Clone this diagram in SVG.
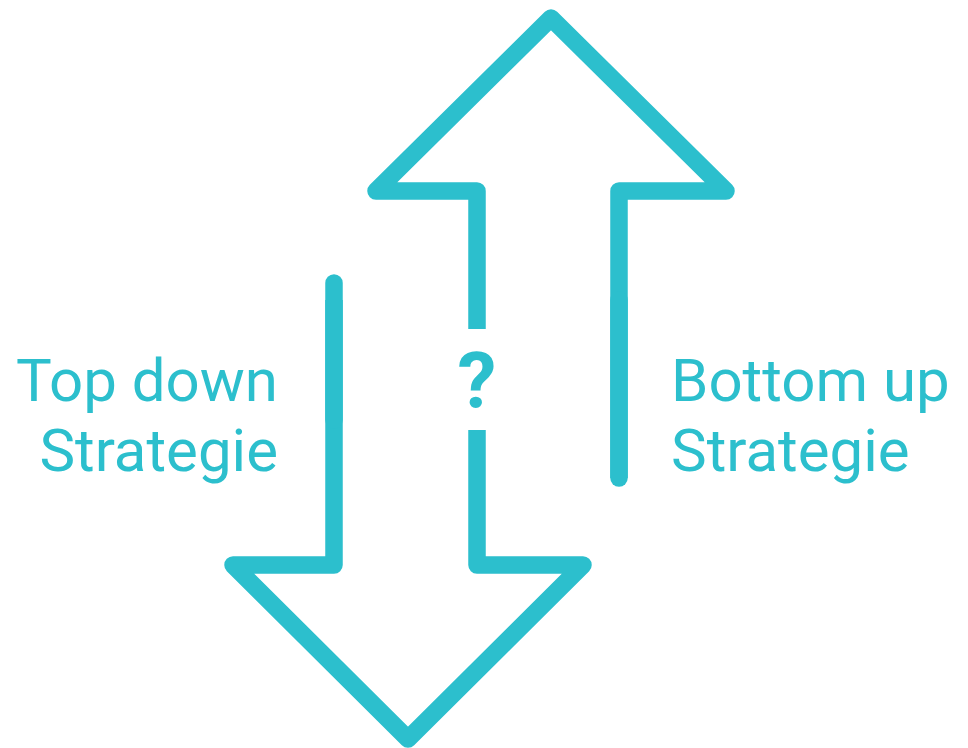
<svg xmlns="http://www.w3.org/2000/svg" width="968" height="748" viewBox="0 0 968 748">
<style>
.ln{fill:none;stroke:#2cbfcd;stroke-width:17.5;stroke-linejoin:round}
.rc{stroke-linecap:round}
.lbl{font-family:Roboto,"Liberation Sans",sans-serif;font-size:60px;fill:#2cbfcd}
.q{font-family:Roboto,"Liberation Sans",sans-serif;font-size:78px;font-weight:bold;fill:#2cbfcd}
</style>
<rect width="968" height="748" fill="#ffffff"/>
<g id="connectors">
<g id="up-arrow">
<path class="ln" d="M477,329 V191 H376 L551,18 L726,191 H619 V478" stroke-linecap="butt"/>
<path class="ln rc" d="M619,300 V478"/>
</g>
<g id="down-arrow">
<path class="ln" d="M477,430 V565 H583 L408,739 L233,565 H334 V300"/>
<path class="ln rc" d="M334,420 V283"/>
</g>
</g>
<g id="question">
<text class="q" x="477" y="408" text-anchor="middle">?</text>
</g>
<g id="top-down">
<text class="lbl" x="278" y="401" text-anchor="end">Top down</text>
<text class="lbl" x="278" y="471" text-anchor="end">Strategie</text>
</g>
<g id="bottom-up">
<text class="lbl" x="671" y="401">Bottom up</text>
<text class="lbl" x="671" y="471">Strategie</text>
</g>
</svg>
